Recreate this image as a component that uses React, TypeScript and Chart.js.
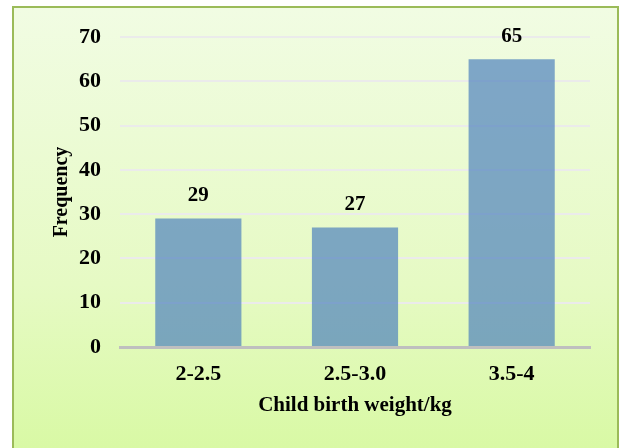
import React, { useEffect, useRef } from "react";
import { Chart, registerables } from "chart.js";

Chart.register(...registerables);

const categories = ["2-2.5", "2.5-3.0", "3.5-4"];
const frequencies = [29, 27, 65];
const yTicks = [0, 10, 20, 30, 40, 50, 60, 70];
const xTitle = "Child birth weight/kg";
const yTitle = "Frequency";

const FONT = "'Liberation Serif', 'Times New Roman', serif";

const labelPlugin = {
  id: "barLabels",
  afterDatasetsDraw(chart: any) {
    const { ctx } = chart;
    const meta = chart.getDatasetMeta(0);
    ctx.save();
    ctx.font = `bold 21px ${FONT}`;
    ctx.fillStyle = "#000";
    ctx.textAlign = "center";
    ctx.textBaseline = "middle";
    meta.data.forEach((bar: any, i: number) => {
      ctx.fillText(String(frequencies[i]), bar.x, bar.y - 23);
    });
    ctx.restore();
  },
};

export default function App() {
  const ref = useRef<HTMLCanvasElement>(null);
  useEffect(() => {
    document.body.style.margin = "0";
    const chart = new Chart(ref.current!, {
      type: "bar",
      data: {
        labels: categories,
        datasets: [
          {
            data: frequencies,
            backgroundColor: "rgba(79,129,189,0.7)",
            borderWidth: 0,
            categoryPercentage: 1,
            barPercentage: 0.55,
          },
        ],
      },
      options: {
        animation: false,
        responsive: false,
        maintainAspectRatio: false,
        layout: { padding: { left: 0, top: 37, right: 31, bottom: 0 } },
        plugins: { legend: { display: false }, tooltip: { enabled: false } },
        scales: {
          x: {
            grid: { display: false, drawTicks: false },
            border: { display: true, color: "#BFBFBF", width: 3 },
            ticks: {
              color: "#000",
              font: { family: FONT, size: 22, weight: "bold" },
              padding: 14,
            },
            title: {
              display: true,
              text: xTitle,
              color: "#000",
              font: { family: FONT, size: 21, weight: "bold" },
              padding: { top: 0, bottom: 30 },
            },
            afterFit(scale: any) {
              scale.height = 101;
            },
          },
          y: {
            min: 0,
            max: 70,
            afterBuildTicks(scale: any) {
              scale.ticks = yTicks.map((v) => ({ value: v }));
            },
            grid: { color: "#EBEBEB", lineWidth: 2, drawTicks: false },
            border: { display: false },
            ticks: {
              color: "#000",
              font: { family: FONT, size: 22, weight: "bold" },
              padding: 19,
            },
            title: {
              display: true,
              text: yTitle,
              color: "#000",
              font: { family: FONT, size: 20, weight: "bold" },
              padding: { top: 50, bottom: 0 },
            },
            afterFit(scale: any) {
              scale.width = 120;
            },
          },
        },
      },
      plugins: [labelPlugin],
    });
    return () => chart.destroy();
  }, []);

  return (
    <div style={{ position: "relative", width: 621, height: 448, overflow: "hidden" }}>
      <div
        style={{
          position: "absolute",
          left: 12,
          top: 6,
          width: 603,
          height: 460,
          border: "2px solid #9BBB59",
          background: "linear-gradient(to bottom, #F1FCE3 0%, #E6FAC4 60%, #D7F9A1 100%)",
        }}
      />
      <canvas
        ref={ref}
        width={621}
        height={448}
        style={{ position: "absolute", left: 0, top: 0, width: 621, height: 448 }}
      />
    </div>
  );
}
